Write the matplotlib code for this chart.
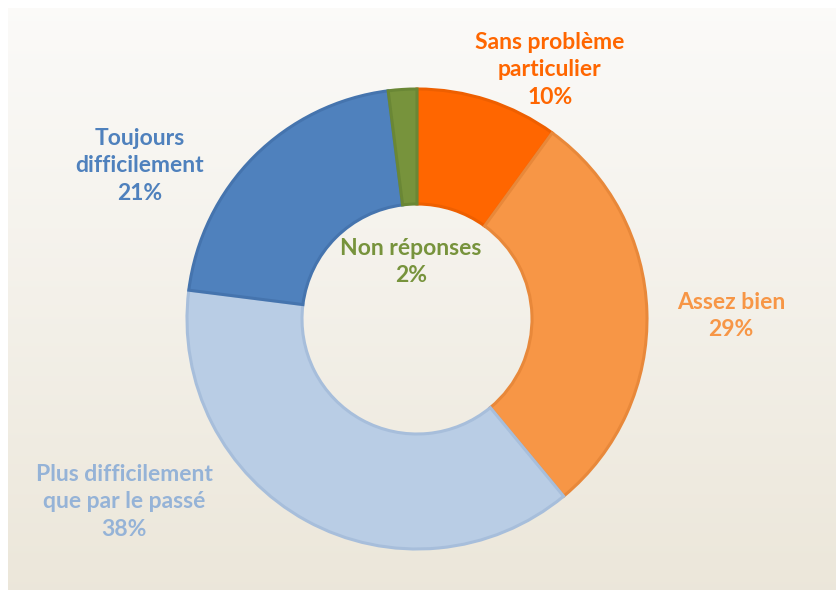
import matplotlib.pyplot as plt
import numpy as np

# Donut data, clockwise from the top
labels = ['Sans problème\nparticulier', 'Assez bien', 'Plus difficilement\nque par le passé',
          'Toujours\ndifficilement', 'Non réponses']
values = [10, 29, 38, 21, 2]

colors = ['#FF6600', '#F79646', '#B9CDE5', '#4F81BD', '#77933C']
edge_colors = ['#EE5F00', '#E8883A', '#A7BEDB', '#4574AE', '#6A8735']
text_colors = ['#FF6600', '#F79646', '#95B3D7', '#4F81BD', '#77933C']

# label centres in pixel coords (x, y from top)
label_pos = [(550, 70), (731, 316), (124, 502), (140, 166), (411, 262)]

W, H = 837, 591
fig = plt.figure(figsize=(W / 100, H / 100), dpi=100)
fig.patch.set_facecolor('white')
ax = fig.add_axes([0, 0, 1, 1])
ax.set_xlim(0, W)
ax.set_ylim(0, H)
ax.set_aspect('equal')
ax.axis('off')

# background gradient panel
grad = np.linspace(0, 1, 256).reshape(-1, 1)
top = np.array([0.985, 0.982, 0.975])
bottom = np.array([0.925, 0.905, 0.855])
img = top + (bottom - top) * grad[:, :, None]
ax.imshow(img, extent=[8, W, 1, H - 8], aspect='auto', zorder=0)

wedges, _ = ax.pie(values, colors=colors, startangle=90, counterclock=False,
                   radius=230, center=(417, H - 319),
                   wedgeprops=dict(width=115, linewidth=2.2))
for w, ec in zip(wedges, edge_colors):
    w.set_edgecolor(ec)
    w.set_zorder(2)
ax.set_xlim(0, W)
ax.set_ylim(0, H)

for lab, v, (x, y), c in zip(labels, values, label_pos, text_colors):
    ax.text(x, H - y, f'{lab}\n{v}%', ha='center', va='center', color=c,
            fontsize=16.5, fontweight='bold', family='Lato', linespacing=1.38,
            zorder=3)

fig.savefig('out.png', dpi=100)
